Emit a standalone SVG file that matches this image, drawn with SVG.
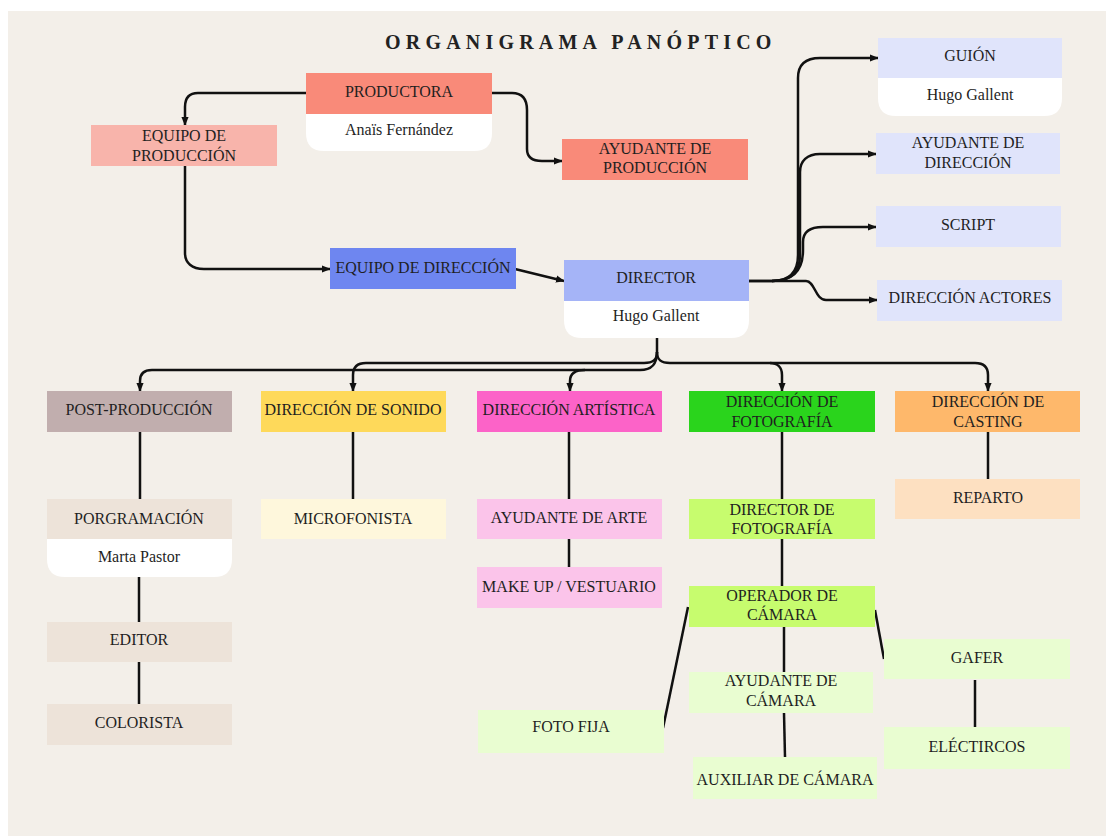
<svg xmlns="http://www.w3.org/2000/svg" width="1106" height="836" viewBox="0 0 1106 836">
<defs>
<marker id="ah" viewBox="0 0 10 10" refX="9" refY="5" markerWidth="9" markerHeight="9" markerUnits="userSpaceOnUse" orient="auto">
<path d="M0,1 L10,5 L0,9 z" fill="#111"/>
</marker>
<style>
text{font-family:"Liberation Serif","Times New Roman",serif;font-size:16px;fill:#1f1f1f;text-anchor:middle}
.title{font-size:20px;font-weight:bold;letter-spacing:5.2px;text-anchor:start;fill:#222}
.c{fill:none;stroke:#111;stroke-width:2.5}
.a{marker-end:url(#ah)}
.w{fill:#ffffff}
</style>
</defs>
<rect x="0" y="0" width="1106" height="836" fill="#ffffff"/>
<rect x="8" y="11" width="1098" height="825" fill="#f3efe9"/>
<text class="title" x="385" y="49">ORGANIGRAMA PANÓPTICO</text>

<g id="connectors">
<path class="c a" d="M306,93 L198,93 C189,93 185,98 185,107 L185,125"/>
<path class="c a" d="M492,93 L512,93 C522,93 527,99 527,110 L527,149 C527,157 532,161 542,161 L562,161"/>
<path class="c a" d="M185,166 L185,253 C185,263 192,269 204,269 L330,269"/>
<path class="c a" d="M515,269 L564,281"/>
<path class="c a" d="M749,281 L772,281 C790,281 798,272 798,255 L798,78 C798,65 805,58 820,58 L878,58"/>
<path class="c a" d="M772,281 C791,281 800,272 800,255 L800,172 C800,161 807,154 820,154 L876,154"/>
<path class="c a" d="M772,281 C794,281 803,270 803,250 L803,242 C803,232 810,227 823,227 L876,227"/>
<path class="c a" d="M749,281 L806,281 C815,281 815,300 826,300 L877,300"/>
<path class="c" d="M657,338 L657,352"/>
<path class="c a" d="M657,352 C657,360 661,363 670,363 L975,363 C983,363 988,367 988,375 L988,391"/>
<path class="c a" d="M770,363 C777,363 782,367 782,375 L782,391"/>
<path class="c a" d="M657,352 C657,360 653,363 644,363 L366,363 C358,363 353,367 353,375 L353,391"/>
<path class="c a" d="M657,352 C657,364 652,370 640,370 L152,370 C144,370 140,374 140,381 L140,391"/>
<path class="c a" d="M585,370 C575,370 570,374 570,381 L570,391"/>
<path class="c" d="M140,432 L140,499"/>
<path class="c" d="M139,577 L139,622"/>
<path class="c" d="M139,662 L139,704"/>
<path class="c" d="M353,432 L353,499"/>
<path class="c" d="M569,432 L569,499"/>
<path class="c" d="M569,539 L569,567"/>
<path class="c" d="M782,432 L782,499"/>
<path class="c" d="M782,539 L782,586"/>
<path class="c" d="M988,432 L988,479"/>
<path class="c" d="M688,607 L663,728"/>
<path class="c" d="M784,627 L784,672"/>
<path class="c" d="M784,713 L785,757"/>
<path class="c" d="M875,610 L884,659"/>
<path class="c" d="M975,680 L975,727"/>
</g>

<g id="productora">
<path class="w" d="M306,114 H492 V133 Q492,151 474,151 H324 Q306,151 306,133 Z"/>
<rect x="306" y="73" width="186" height="41" fill="#f98a79"/>
<text x="399" y="96.5" fill="#3a1a14">PRODUCTORA</text>
<text x="399" y="135">Anaïs Fernández</text>
</g>
<g id="equipo-produccion">
<rect x="91" y="125" width="186" height="41" fill="#f8b4ab"/>
<text x="184" y="141">EQUIPO DE</text>
<text x="184" y="161">PRODUCCIÓN</text>
</g>
<g id="ayudante-produccion">
<rect x="562" y="139" width="186" height="41" fill="#f98a79"/>
<text x="655" y="154" fill="#4a1810">AYUDANTE DE</text>
<text x="655" y="173" fill="#4a1810">PRODUCCIÓN</text>
</g>
<g id="equipo-direccion">
<rect x="330" y="248" width="186" height="41" fill="#6e86f0"/>
<text x="423" y="273" fill="#141a50">EQUIPO DE DIRECCIÓN</text>
</g>
<g id="director">
<path class="w" d="M564,301 H749 V320 Q749,338 731,338 H582 Q564,338 564,320 Z"/>
<rect x="564" y="260" width="185" height="41" fill="#a5b4f7"/>
<text x="656" y="283" fill="#1e2460">DIRECTOR</text>
<text x="656" y="321">Hugo Gallent</text>
</g>
<g id="guion">
<path class="w" d="M878,78 H1062 V98 Q1062,116 1044,116 H896 Q878,116 878,98 Z"/>
<rect x="878" y="38" width="184" height="40" fill="#e0e4fb"/>
<text x="970" y="61">GUIÓN</text>
<text x="970" y="100">Hugo Gallent</text>
</g>
<g id="ayudante-direccion">
<rect x="876" y="133" width="184" height="41" fill="#e0e4fb"/>
<text x="968" y="148">AYUDANTE DE</text>
<text x="968" y="168">DIRECCIÓN</text>
</g>
<g id="script">
<rect x="876" y="206" width="185" height="41" fill="#e0e4fb"/>
<text x="968" y="230">SCRIPT</text>
</g>
<g id="direccion-actores">
<rect x="877" y="280" width="185" height="41" fill="#e0e4fb"/>
<text x="970" y="303">DIRECCIÓN ACTORES</text>
</g>

<g id="post-produccion">
<rect x="47" y="391" width="185" height="41" fill="#c1aeae"/>
<text x="139" y="415">POST-PRODUCCIÓN</text>
</g>
<g id="direccion-sonido">
<rect x="261" y="391" width="185" height="41" fill="#fed95a"/>
<text x="353" y="415">DIRECCIÓN DE SONIDO</text>
</g>
<g id="direccion-artistica">
<rect x="477" y="391" width="185" height="41" fill="#fc63c8"/>
<text x="569" y="415" fill="#4a0c36">DIRECCIÓN ARTÍSTICA</text>
</g>
<g id="direccion-fotografia">
<rect x="689" y="391" width="186" height="41" fill="#2ad41c"/>
<text x="782" y="407" fill="#0c3a0c">DIRECCIÓN DE</text>
<text x="782" y="427" fill="#0c3a0c">FOTOGRAFÍA</text>
</g>
<g id="direccion-casting">
<rect x="895" y="391" width="185" height="41" fill="#feb86b"/>
<text x="988" y="407">DIRECCIÓN DE</text>
<text x="988" y="427">CASTING</text>
</g>

<g id="porgramacion">
<path class="w" d="M47,539 H232 V559 Q232,577 214,577 H65 Q47,577 47,559 Z"/>
<rect x="47" y="499" width="185" height="40" fill="#ede3d9"/>
<text x="139" y="524">PORGRAMACIÓN</text>
<text x="139" y="562">Marta Pastor</text>
</g>
<g id="editor">
<rect x="47" y="622" width="185" height="40" fill="#ede3d9"/>
<text x="139" y="645">EDITOR</text>
</g>
<g id="colorista">
<rect x="47" y="704" width="185" height="41" fill="#ede3d9"/>
<text x="139" y="728">COLORISTA</text>
</g>
<g id="microfonista">
<rect x="261" y="499" width="185" height="40" fill="#fef7dc"/>
<text x="353" y="524">MICROFONISTA</text>
</g>
<g id="ayudante-arte">
<rect x="477" y="499" width="185" height="40" fill="#fbc4ea"/>
<text x="569" y="523">AYUDANTE DE ARTE</text>
</g>
<g id="make-up">
<rect x="477" y="567" width="185" height="41" fill="#fbc4ea"/>
<text x="569" y="591.5">MAKE UP / VESTUARIO</text>
</g>
<g id="director-fotografia">
<rect x="689" y="499" width="186" height="40" fill="#c7fc6e"/>
<text x="782" y="515">DIRECTOR DE</text>
<text x="782" y="534">FOTOGRAFÍA</text>
</g>
<g id="operador-camara">
<rect x="689" y="586" width="186" height="41" fill="#c7fc6e"/>
<text x="782" y="601">OPERADOR DE</text>
<text x="782" y="620">CÁMARA</text>
</g>
<g id="reparto">
<rect x="895" y="479" width="185" height="40" fill="#fde0c1"/>
<text x="988" y="503">REPARTO</text>
</g>
<g id="foto-fija">
<rect x="478" y="710" width="186" height="43" fill="#e9fdd1"/>
<text x="571" y="731.5">FOTO FIJA</text>
</g>
<g id="ayudante-camara">
<rect x="689" y="672" width="184" height="41" fill="#e9fdd1"/>
<text x="781" y="686">AYUDANTE DE</text>
<text x="781" y="706">CÁMARA</text>
</g>
<g id="auxiliar-camara">
<rect x="693" y="757" width="184" height="42" fill="#e9fdd1"/>
<text x="785" y="785">AUXILIAR DE CÁMARA</text>
</g>
<g id="gafer">
<rect x="884" y="639" width="186" height="40" fill="#e9fdd1"/>
<text x="977" y="663">GAFER</text>
</g>
<g id="electircos">
<rect x="884" y="727" width="186" height="42" fill="#e9fdd1"/>
<text x="977" y="752">ELÉCTIRCOS</text>
</g>
</svg>
